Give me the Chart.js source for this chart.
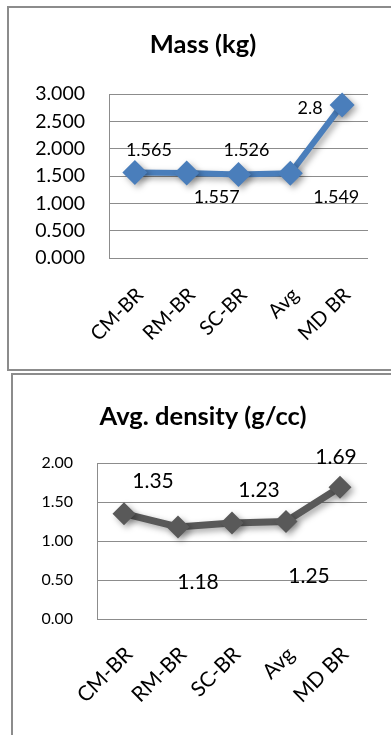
<!DOCTYPE html>
<html>
<head>
<meta charset="utf-8">
<script src="https://cdn.jsdelivr.net/npm/chart.js@4/dist/chart.umd.min.js"></script>
<style>
  html, body { margin: 0; padding: 0; background: #fff; width: 391px; height: 735px; overflow: hidden; position: relative; }
  .frame { position: absolute; border: 2px solid #8c8c8c; box-sizing: border-box; }
  #frameMass { left: 7px; top: 6px; width: 420px; height: 365px; }
  #frameDensity { left: 11px; top: 373px; width: 420px; height: 400px; }
  canvas { position: absolute; left: 0; }
  #massChart { top: 0; }
  #densityChart { top: 372px; }
</style>
</head>
<body>
<div class="frame" id="frameMass"></div>
<div class="frame" id="frameDensity"></div>
<canvas id="massChart" width="406" height="372"></canvas>
<canvas id="densityChart" width="406" height="363"></canvas>
<script>
// Sample categories shared by both charts
const categories = ['CM-BR', 'RM-BR', 'SC-BR', 'Avg', 'MD BR'];

// Mass per sample, kg
const massValues = [1.565, 1.557, 1.526, 1.549, 2.8];
const massValueText = ['1.565', '1.557', '1.526', '1.549', '2.8'];
const massTickLabels = ['0.000', '0.500', '1.000', '1.500', '2.000', '2.500', '3.000'];

// Average density per sample, g/cc
const densityValues = [1.35, 1.18, 1.23, 1.25, 1.69];
const densityValueText = ['1.35', '1.18', '1.23', '1.25', '1.69'];
const densityTickLabels = ['0.00', '0.50', '1.00', '1.50', '2.00'];

const FONT = 'Lato, "Open Sans", sans-serif';

// Soft drop shadow under the line and markers
const shadowPlugin = {
  id: 'lineShadow',
  beforeDatasetDraw(chart) {
    const ctx = chart.ctx;
    ctx.save();
    ctx.shadowColor = 'rgba(0,0,0,0.35)';
    ctx.shadowBlur = 6;
    ctx.shadowOffsetX = 3;
    ctx.shadowOffsetY = 3;
  },
  afterDatasetDraw(chart) {
    chart.ctx.restore();
  }
};

// Value labels placed beside each point
const valueLabelPlugin = {
  id: 'valueLabels',
  afterDatasetsDraw(chart, args, opts) {
    const ctx = chart.ctx;
    const meta = chart.getDatasetMeta(0);
    ctx.save();
    ctx.font = opts.font;
    ctx.fillStyle = '#000';
    ctx.textAlign = 'center';
    ctx.textBaseline = 'middle';
    meta.data.forEach((pt, i) => {
      const shift = opts.shift[i];
      ctx.fillText(opts.text[i], pt.x + shift[0], pt.y + shift[1]);
    });
    ctx.restore();
  }
};

function buildChart(canvasId, cfg) {
  return new Chart(document.getElementById(canvasId), {
    type: 'line',
    data: {
      labels: categories,
      datasets: [{
        data: cfg.values,
        borderColor: cfg.color,
        backgroundColor: cfg.color,
        borderWidth: cfg.lineWidth,
        tension: 0,
        pointStyle: 'rectRot',
        pointRadius: cfg.pointRadius,
        pointHoverRadius: cfg.pointRadius,
        pointBorderWidth: 0,
        clip: false
      }]
    },
    options: {
      responsive: false,
      animation: false,
      events: [],
      layout: { padding: 0 },
      plugins: {
        legend: { display: false },
        tooltip: { enabled: false },
        title: {
          display: true,
          text: cfg.title,
          color: '#000',
          font: { family: FONT, size: cfg.titleSize, weight: 'bold', lineHeight: 1.2 },
          padding: { top: cfg.titleTop, bottom: cfg.titleBottom }
        },
        valueLabels: { font: cfg.labelFont, text: cfg.valueText, shift: cfg.shift }
      },
      scales: {
        x: {
          offset: true,
          grid: { display: false },
          border: { display: false },
          ticks: {
            color: '#000',
            font: { family: FONT, size: cfg.xSize },
            minRotation: 45,
            maxRotation: 45,
            padding: cfg.xPad,
            labelOffset: 5,
            autoSkip: false
          },
          afterFit(scale) { scale.height = cfg.xHeight; }
        },
        y: {
          min: 0,
          max: cfg.max,
          grid: { color: '#8c8c8c', lineWidth: 1, drawTicks: false },
          border: { display: true, color: '#8c8c8c', width: 1 },
          ticks: {
            stepSize: 0.5,
            color: '#000',
            font: { family: FONT, size: cfg.ySize },
            padding: 24,
            callback: (v, i) => cfg.tickLabels[i]
          },
          afterFit(scale) { scale.width = cfg.yWidth; }
        },
        // empty right-hand margin of the plot
        rightMargin: {
          axis: 'y',
          position: 'right',
          grid: { display: false },
          border: { display: false },
          ticks: { display: false },
          afterFit(scale) { scale.width = cfg.rightWidth; }
        }
      }
    },
    plugins: [shadowPlugin, valueLabelPlugin]
  });
}

buildChart('massChart', {
  values: massValues,
  valueText: massValueText,
  tickLabels: massTickLabels,
  title: 'Mass (kg)',
  color: '#4a7ebb',
  lineWidth: 6,
  pointRadius: 12.5,
  max: 3,
  rightWidth: 38,
  titleSize: 25.5,
  titleTop: 29.7,
  titleBottom: 33.7,
  xSize: 20,
  xPad: 17,
  xHeight: 114,
  ySize: 19.5,
  yWidth: 109,
  labelFont: '18px ' + FONT,
  shift: [[14, -22], [30, 24], [8, -24], [46, 24], [-32, 3]]
});

buildChart('densityChart', {
  values: densityValues,
  valueText: densityValueText,
  tickLabels: densityTickLabels,
  title: 'Avg. density (g/cc)',
  color: '#595959',
  lineWidth: 7,
  pointRadius: 11.5,
  max: 2,
  rightWidth: 39,
  titleSize: 25.5,
  titleTop: 29.7,
  titleBottom: 30.7,
  xSize: 21,
  xPad: 15,
  xHeight: 116,
  ySize: 16,
  yWidth: 97,
  labelFont: '21px ' + FONT,
  shift: [[29, -32], [20, 55], [27, -33], [23, 55], [-4, -30]]
});
</script>
</body>
</html>
